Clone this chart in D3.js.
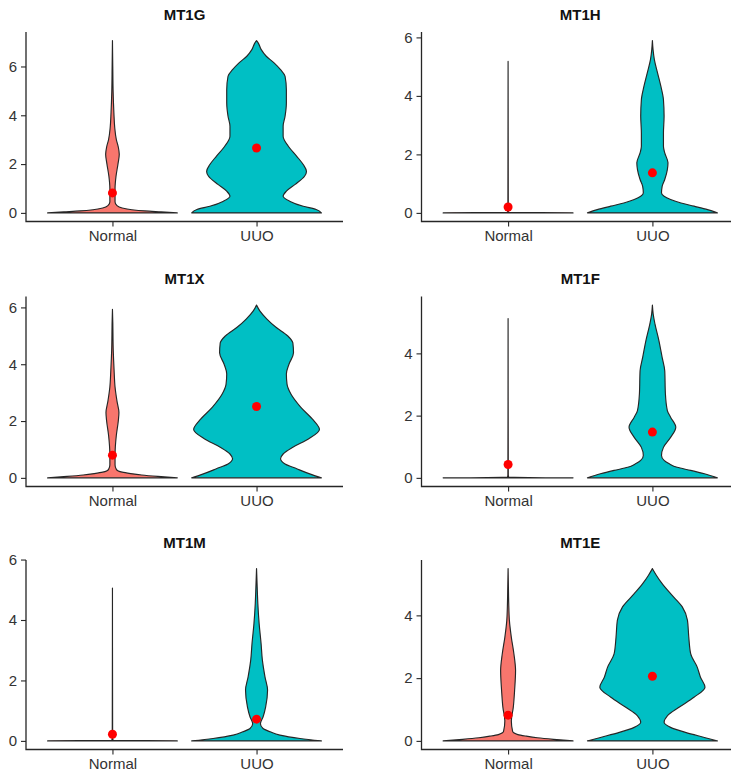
<!DOCTYPE html>
<html>
<head>
<meta charset="utf-8">
<script src="https://cdn.jsdelivr.net/npm/d3@7"></script>
<style>
  html, body { margin: 0; padding: 0; background: #fff; }
  svg { display: block; }
</style>
</head>
<body>
<div id="chart"></div>
<script>
// Genes, groups, and per-panel y ticks
const genes = ["MT1G", "MT1H", "MT1X", "MT1F", "MT1M", "MT1E"];
const groups = ["Normal", "UUO"];
const yTicks = [[0, 2, 4, 6], [0, 2, 4, 6], [0, 2, 4, 6], [0, 2, 4], [0, 2, 4, 6], [0, 2, 4]];

// Violin outlines: [expression, relative half-width]
const mt1gNormal = [[0, 1], [0.04, 0.75], [0.08, 0.5], [0.13, 0.3], [0.2, 0.15], [0.3, 0.07], [0.45, 0.04],
  [1.0, 0.04], [1.5, 0.055], [2.0, 0.085], [2.4, 0.105], [2.7, 0.09], [3.0, 0.06], [3.5, 0.035], [4.1, 0.022],
  [5.0, 0.01], [6.0, 0.005], [7.06, 0]];
const mt1gUUO = [[0, 1], [0.14, 0.92], [0.27, 0.72], [0.48, 0.51], [0.68, 0.41], [0.89, 0.46], [1.16, 0.59],
  [1.5, 0.74], [1.7, 0.77], [1.98, 0.72], [2.32, 0.62], [2.73, 0.49], [3.14, 0.41], [3.55, 0.41], [3.96, 0.44],
  [4.5, 0.46], [5.05, 0.46], [5.6, 0.44], [5.87, 0.37], [6.15, 0.27], [6.42, 0.15], [6.7, 0.07], [6.97, 0.025], [7.06, 0]];

const mt1hNormal = [[0, 1], [0.02, 0.01], [0.1, 0.003], [5.18, 0]];
const mt1hUUO = [[0, 1], [0.11, 0.85], [0.23, 0.64], [0.34, 0.44], [0.46, 0.28], [0.57, 0.18], [0.68, 0.14],
  [0.91, 0.15], [1.14, 0.19], [1.48, 0.23], [1.71, 0.24], [2.05, 0.19], [2.28, 0.17], [2.73, 0.17], [3.3, 0.18],
  [3.87, 0.17], [4.33, 0.13], [4.78, 0.08], [5.24, 0.03], [5.58, 0.01], [5.89, 0]];

const mt1xNormal = [[0, 1], [0.05, 0.7], [0.1, 0.45], [0.15, 0.28], [0.2, 0.15], [0.3, 0.06], [0.45, 0.04],
  [0.8, 0.04], [1.5, 0.06], [2.0, 0.09], [2.3, 0.1], [2.7, 0.07], [3.2, 0.04], [3.8, 0.025], [4.5, 0.012],
  [5.5, 0.005], [5.93, 0]];
const mt1xUUO = [[0, 1], [0.14, 0.82], [0.32, 0.62], [0.49, 0.44], [0.67, 0.37], [0.84, 0.41], [1.08, 0.56],
  [1.37, 0.8], [1.7, 0.97], [2.02, 0.88], [2.49, 0.68], [2.95, 0.53], [3.3, 0.47], [3.66, 0.46], [4.0, 0.5],
  [4.4, 0.57], [4.75, 0.56], [5.0, 0.48], [5.3, 0.3], [5.59, 0.16], [5.88, 0.05], [6.08, 0]];

const mt1fNormal = [[0, 1], [0.02, 0.01], [0.1, 0.003], [5.12, 0]];
const mt1fUUO = [[0, 1], [0.13, 0.8], [0.24, 0.59], [0.34, 0.38], [0.45, 0.26], [0.56, 0.18], [0.72, 0.14],
  [0.98, 0.17], [1.3, 0.28], [1.63, 0.36], [1.95, 0.28], [2.16, 0.23], [2.7, 0.2], [3.44, 0.19], [3.87, 0.15],
  [4.41, 0.1], [4.94, 0.04], [5.26, 0.012], [5.55, 0]];

const mt1mNormal = [[0, 1], [0.02, 0.01], [0.1, 0.003], [5.06, 0]];
const mt1mUUO = [[0, 1], [0.08, 0.67], [0.19, 0.36], [0.3, 0.21], [0.41, 0.1], [0.57, 0.06], [0.79, 0.1],
  [1.12, 0.14], [1.68, 0.17], [2.12, 0.13], [2.67, 0.09], [3.22, 0.07], [3.88, 0.04], [4.54, 0.02], [5.09, 0.01], [5.7, 0]];

const mt1eNormal = [[0, 1], [0.05, 0.7], [0.1, 0.45], [0.15, 0.28], [0.2, 0.15], [0.3, 0.07], [0.64, 0.05],
  [1.07, 0.08], [1.6, 0.1], [2.24, 0.115], [2.77, 0.09], [3.3, 0.05], [3.84, 0.02], [4.37, 0.01], [4.9, 0.005], [5.49, 0]];
const mt1eUUO = [[0, 1], [0.11, 0.8], [0.27, 0.51], [0.43, 0.28], [0.59, 0.18], [0.8, 0.23], [1.07, 0.41],
  [1.39, 0.64], [1.71, 0.81], [2.03, 0.74], [2.35, 0.69], [2.77, 0.59], [3.31, 0.56], [3.84, 0.54], [4.27, 0.46],
  [4.69, 0.28], [5.01, 0.15], [5.28, 0.06], [5.49, 0]];

// Red dots (group means) per gene: [Normal, UUO]
const meanValues = [[0.82, 2.66], [0.2, 1.37], [0.8, 2.51], [0.43, 1.47], [0.22, 0.72], [0.82, 2.06]];

const violins = [
  [mt1gNormal, mt1gUUO], [mt1hNormal, mt1hUUO], [mt1xNormal, mt1xUUO],
  [mt1fNormal, mt1fUUO], [mt1mNormal, mt1mUUO], [mt1eNormal, mt1eUUO]
];

const W = 731, H = 775;
const FILL = { Normal: "#F8766D", UUO: "#00BFC4" };
const LINE = "#262626";
const TEXT = "#333";
const FONT = "Liberation Sans, Arial, sans-serif";

// panel frames (plot area)
const colX = [[26, 343], [421.5, 739]];
const rowY = [[32, 221.5], [296.5, 486.5], [560, 749.5]];

const svg = d3.select("#chart").append("svg")
  .attr("width", W).attr("height", H)
  .attr("viewBox", `0 0 ${W} ${H}`);

genes.forEach((gene, i) => {
  const [left, right] = colX[i % 2];
  const [top, bottom] = rowY[Math.floor(i / 2)];
  const pair = violins[i];

  const maxV = d3.max(pair.flat(), (d) => d[0]);
  const y = d3.scaleLinear().domain([-0.05 * maxV, 1.05 * maxV]).range([bottom, top]);
  const x = d3.scalePoint().domain(groups).range([left, right]).padding(0.6);
  const w = d3.scaleLinear().domain([0, 1]).range([0, 0.45 * x.step()]);

  const g = svg.append("g");

  // violins
  groups.forEach((grp, j) => {
    const cx = x(grp);
    const area = d3.area()
      .y((d) => y(d[0]))
      .x0((d) => cx - w(d[1]))
      .x1((d) => cx + w(d[1]))
      .curve(d3.curveMonotoneY);
    g.append("path")
      .attr("d", area(pair[j]))
      .attr("fill", FILL[grp])
      .attr("stroke", LINE)
      .attr("stroke-width", 1.15)
      .attr("stroke-linejoin", "round");
  });

  // mean dots
  g.selectAll("circle.mean")
    .data(groups.map((grp, j) => ({ grp, v: meanValues[i][j] })))
    .join("circle")
    .attr("class", "mean")
    .attr("cx", (d) => x(d.grp))
    .attr("cy", (d) => y(d.v))
    .attr("r", 4.5)
    .attr("fill", "#FF0000");

  // axes
  const yAxis = g.append("g")
    .attr("transform", `translate(${left},0)`)
    .call(d3.axisLeft(y).tickValues(yTicks[i]).tickSize(5).tickPadding(4).tickFormat(d3.format("d")));
  const xAxis = g.append("g")
    .attr("transform", `translate(0,${bottom})`)
    .call(d3.axisBottom(x).tickSize(5).tickPadding(4));

  [yAxis, xAxis].forEach((ax) => {
    ax.select(".domain").remove();
    ax.selectAll(".tick line").attr("stroke", LINE).attr("stroke-width", 1.1);
    ax.selectAll(".tick text").attr("fill", TEXT).style("font", `15px ${FONT}`);
  });

  // axis lines drawn so they meet at the corner
  g.append("path")
    .attr("d", `M${left},${top}V${bottom}H${right}`)
    .attr("fill", "none")
    .attr("stroke", LINE)
    .attr("stroke-width", 1.3);

  g.append("text")
    .attr("x", (left + right) / 2)
    .attr("y", top - 12.5)
    .attr("text-anchor", "middle")
    .attr("fill", "#111")
    .style("font", `bold 15px ${FONT}`)
    .text(gene);
});
</script>
</body>
</html>
